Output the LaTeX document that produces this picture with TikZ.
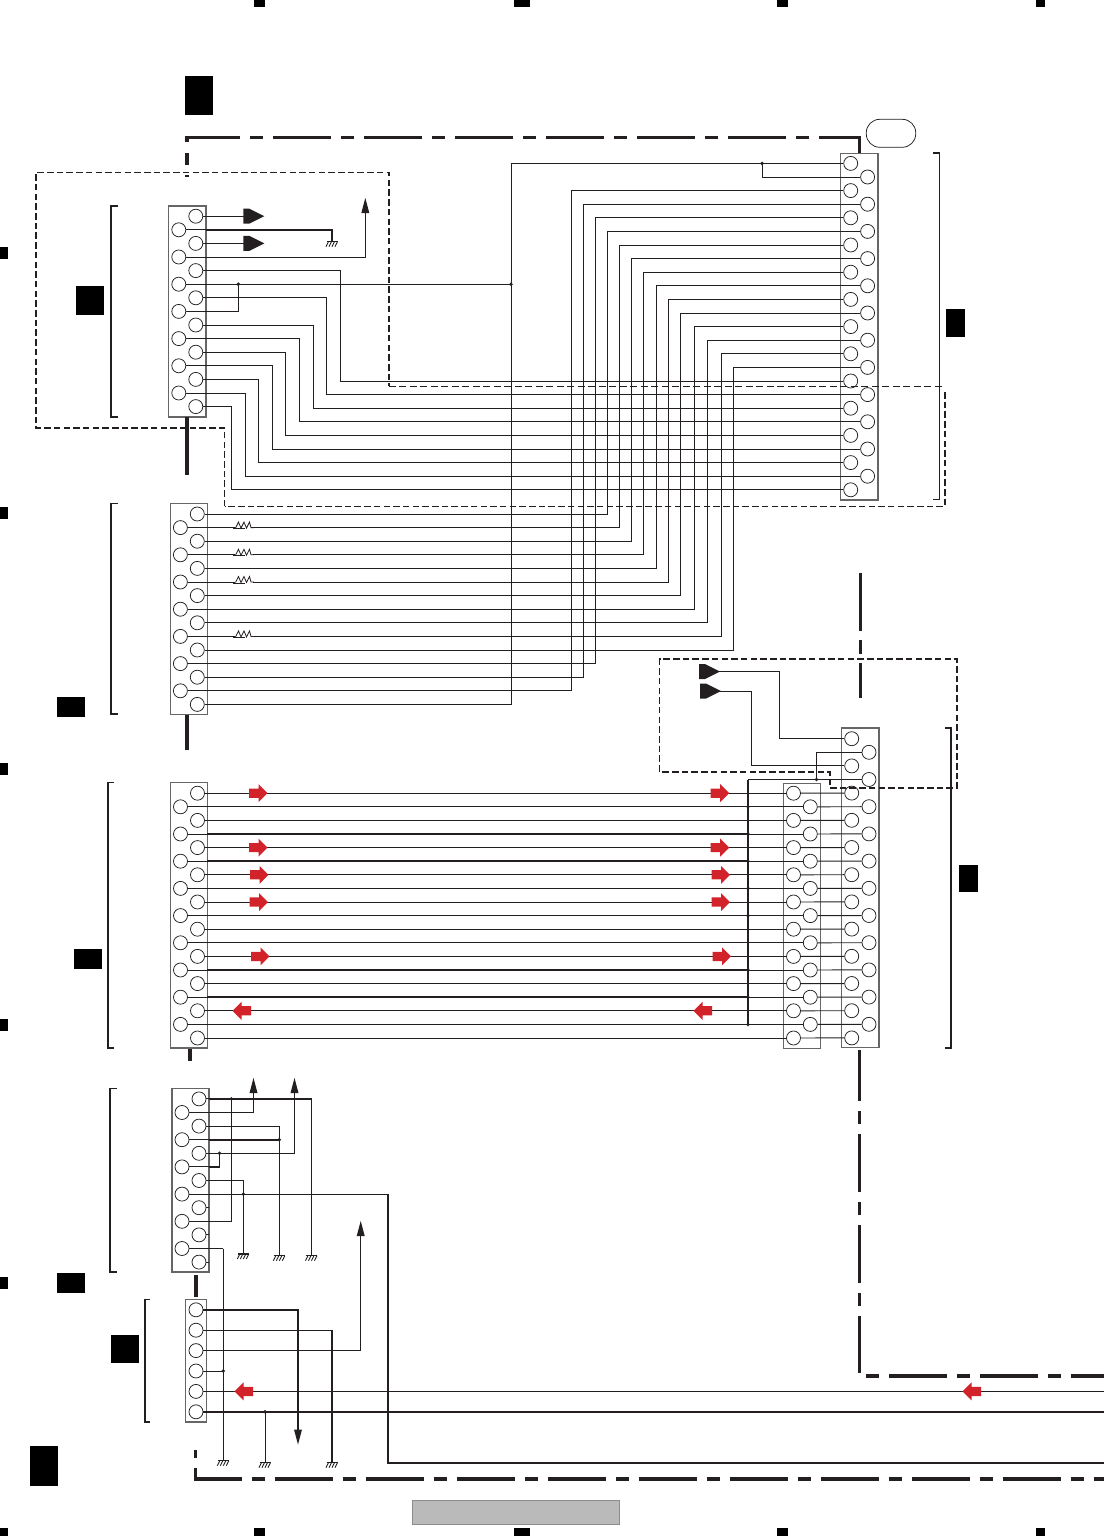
\documentclass[tikz,border=0pt]{standalone}
\definecolor{ink}{HTML}{231F20}
\definecolor{redarrow}{HTML}{D2232A}
\definecolor{boxline}{HTML}{666666}
\tikzset{
  wire/.style={draw=ink,line width=0.95pt},
  heavy/.style={draw=ink,line width=2pt},
  pinc/.style={circle,draw=ink,line width=0.75pt,fill=white,minimum size=14pt,inner sep=0pt},
  conn/.style={draw=boxline,line width=1.15pt},
  brack/.style={draw=ink,line width=1.5pt},
  dashzone/.style={draw=ink,line width=1.5pt,dash pattern=on 6.5pt off 3.2pt},
  dashthin/.style={draw=ink,line width=0.9pt,dash pattern=on 7pt off 3.5pt},
  chain/.style={draw=ink,line width=3.2pt,dash pattern=on 58pt off 10pt on 13pt off 10pt},
  solidchain/.style={draw=ink,line width=3.2pt},
  blacklabel/.style={fill=black},
  flag/.style={fill=ink},
  tri/.style={fill=ink},
  jdot/.style={circle,fill=ink,inner sep=0pt,minimum size=3.8pt},
  redblock/.style={fill=redarrow},
}
\newcommand{\pinrow}[5]{% name, x odd, x even, y0, n
  \foreach \k in {1,...,#5}{
    \pgfmathsetmacro\yy{#4+13.6*(\k-1)}
    \ifodd\k\def\xx{#2}\else\def\xx{#3}\fi
    \node[pinc] (#1\k) at (\xx,\yy) {};
  }}
\newcommand{\zwire}[3]{\draw[wire] (#1) -- (#2,0 |- #1) -- (#2,0 |- #3) -- (#3);}
\newcommand{\gndsym}[2]{%
  \draw[draw=ink,line width=1.3pt] (#1-5.5,#2) -- (#1+5.5,#2);
  \draw[draw=ink,line width=0.9pt] (#1-3.5,#2) -- (#1-6,#2+5) (#1-0.5,#2) -- (#1-3,#2+5) (#1+2.5,#2) -- (#1,#2+5) (#1+5.5,#2) -- (#1+3,#2+5);}
\newcommand{\flagsym}[2]{\fill[flag] (#1,#2-7.5) -- (#1+6,#2-7.5) -- (#1+21,#2) -- (#1+6,#2+7.5) -- (#1,#2+7.5) -- cycle;}
\newcommand{\upa}[2]{\fill[tri] (#1,#2) -- (#1+4,#2+15) -- (#1-4,#2+15) -- cycle;}
\newcommand{\downa}[2]{\fill[tri] (#1,#2) -- (#1+4,#2-15) -- (#1-4,#2-15) -- cycle;}
\newcommand{\redr}[2]{\fill[redblock] (#1,#2-4.6) -- (#1+9.5,#2-4.6) -- (#1+9.5,#2-9) -- (#1+18.5,#2) -- (#1+9.5,#2+9) -- (#1+9.5,#2+4.6) -- (#1,#2+4.6) -- cycle;}
\newcommand{\redl}[2]{\fill[redblock] (#1,#2-4.6) -- (#1-9.5,#2-4.6) -- (#1-9.5,#2-9) -- (#1-18.5,#2) -- (#1-9.5,#2+9) -- (#1-9.5,#2+4.6) -- (#1,#2+4.6) -- cycle;}
\newcommand{\resist}[1]{%
  \draw[draw=white,line width=1.5pt] (235,#1) -- (253,#1);
  \draw[draw=ink,line width=1pt] (233,#1+1) -- (245,#1+1);
  \draw[draw=ink,line width=0.8pt] (235.5,#1+0.5) -- (238.5,#1-5.5) -- (241,#1+0.5) -- (244,#1-5.5) -- (246.5,#1+0.5) -- (249.5,#1-5.5) -- (251,#1) -- (254,#1);}
\begin{document}
\begin{tikzpicture}[x=1pt,y=-1pt]
\useasboundingbox (0,0) rectangle (1104,1536);
% registration marks
\foreach \a/\b in {254/265,514/530,777/788,1036/1045}{
  \fill[black] (\a,0) rectangle (\b,7);
  \fill[black] (\a,1528) rectangle (\b,1536);}
\fill[black] (0,1528) rectangle (8,1536);
\foreach \a in {247,507,763,1019,1277}{\fill[black] (0,\a) rectangle (8,\a+12);}
% black label blocks
\foreach \a/\b/\c/\d in {185/76/213/115,76/286/104/315,946/309/965/337,57/697/85/717,74/949/102/969,959/865/978/892,57/1273/85/1293,111/1335/139/1363,30/1446/58/1486}{
  \fill[blacklabel] (\a,\b) rectangle (\c,\d);}
% grey plate and oval
\draw[fill=black!27!white,draw=black!45!white,line width=0.8pt] (412.5,1500.5) rectangle (619.5,1524.5);
\node[draw=ink,line width=0.75pt,rounded corners=13.5pt,minimum width=49.5pt,minimum height=28pt,inner sep=0pt] (oval) at (891,133.3) {};
% brackets
\draw[brack] (118,206) -- (111,206) -- (111,417) -- (118,417);
\draw[brack] (118,503.5) -- (111,503.5) -- (111,714) -- (118,714);
\draw[brack] (114,782.5) -- (108,782.5) -- (108,1048) -- (114,1048);
\draw[brack] (117,1088.5) -- (110,1088.5) -- (110,1272) -- (117,1272);
\draw[brack] (150,1299.5) -- (145,1299.5) -- (145,1422) -- (150,1422);
\draw[brack] (933,153) -- (939.5,153) -- (939.5,499.5) -- (933,499.5);
\draw[brack] (945,728) -- (951,728) -- (951,1048) -- (945,1048);
% connector bodies
\draw[conn] (168.5,206) rectangle (206,417);
\draw[conn] (840.5,153.5) rectangle (878,500);
\draw[conn] (170.5,503.5) rectangle (207.5,714.5);
\draw[conn] (170.5,782.5) rectangle (207.5,1048);
\draw[conn] (783.5,783.5) rectangle (820.5,1048.5);
\draw[conn] (841.5,728) rectangle (879,1047.5);
\draw[conn] (172,1088.5) rectangle (209,1272);
\draw[conn] (185.5,1299.5) rectangle (206.5,1422);
% pins
\pinrow{A}{195.8}{178.8}{216.2}{15}
\pinrow{T}{850.7}{867.6}{163.4}{25}
\pinrow{B}{197.3}{180.4}{514}{15}
\pinrow{C}{197.5}{180.5}{793.2}{19}
\pinrow{M}{793.5}{810.3}{793.2}{19}
\pinrow{R}{851.7}{869}{738.7}{23}
\pinrow{D}{199}{182}{1098.9}{13}
\foreach \k in {1,...,6}{
  \pgfmathsetmacro\yy{1309.8+20.4*(\k-1)}
  \node[pinc] (E\k) at (196,\yy) {};}
% ---- top connector wires
\zwire{T1}{511}{B15}
\node[jdot] (j1) at (762,0 |- T1) {};
\draw[wire] (j1.center) -- (j1.center |- T2) -- (T2);
\zwire{T3}{571.5}{B14}
\zwire{T4}{583.5}{B13}
\zwire{T5}{595.5}{B12}
\zwire{T6}{607.5}{B1}
\zwire{T7}{619.5}{B2}
\zwire{T8}{631.5}{B3}
\zwire{T9}{643.5}{B4}
\zwire{T10}{656}{B5}
\zwire{T11}{668}{B6}
\zwire{T12}{680.5}{B7}
\zwire{T13}{694}{B8}
\zwire{T14}{707.5}{B9}
\zwire{T15}{721}{B10}
\zwire{T16}{733.5}{B11}
\zwire{A5}{340.3}{T17}
\zwire{A7}{326.3}{T18}
\zwire{A9}{313.7}{T19}
\zwire{A10}{299.3}{T20}
\zwire{A11}{285.7}{T21}
\zwire{A12}{272.3}{T22}
\zwire{A13}{258.7}{T23}
\zwire{A14}{245.3}{T24}
\zwire{A15}{231.5}{T25}
% ---- upper left
\flagsym{243.3}{216.2}
\flagsym{243.3}{243.4}
\draw[wire] (A1) -- (244,0 |- A1);
\draw[wire] (A3) -- (244,0 |- A3);
\draw[wire] (A2) -- (206,0 |- A2);
\draw[heavy,line width=1.8pt] (206,0 |- A2) -- (332,0 |- A2) -- (332,241.7);
\gndsym{332}{241.7}
\draw[wire] (A4) -- (365.3,0 |- A4) -- (365.3,205);
\upa{365.3}{198}
\node[jdot] (j2) at (511,0 |- A6) {};
\node[jdot] (j3) at (238.3,0 |- A6) {};
\draw[wire] (A6) -- (j2.center);
\draw[wire] (A8) -- (238.3,0 |- A8) -- (j3.center);
% ---- resistors
\resist{527.6}
\resist{554.8}
\resist{582}
\resist{636.4}
% ---- lower flags
\flagsym{699}{671.5}
\flagsym{700}{691}
\draw[wire] (R1) -- (779.5,0 |- R1) -- (779.5,671.5) -- (718,671.5);
\draw[wire] (R3) -- (751.5,0 |- R3) -- (751.5,691) -- (719,691);
\node[jdot] (j4) at (816.5,0 |- R4) {};
\draw[wire,line width=1.6pt] (R2) -- (816.5,0 |- R2) -- (j4.center);
\draw[wire] (R4) -- (748,0 |- R4);
% ---- bus
\foreach \k [evaluate=\k as \r using int(\k+4)] in {1,...,19}{
  \draw[wire] (C\k) -- (M\k);
  \draw[wire] (M\k) -- (R\r);}
\foreach \k in {4,6,14,16}{\draw[heavy,line width=1.9pt] (207,0 |- C\k) -- (748,0 |- C\k);}
\draw[heavy,line width=2.2pt] (748,0 |- R4) -- (748,0 |- C18);
\foreach \k in {2,4,6,8,10,14,16,18}{\node[jdot] (bus\k) at (748,0 |- C\k) {};}
\foreach \k/\xr/\xs in {1/249/710.7,5/249/710.7,7/250/711.5,9/249.5/711.5,13/251/712.5}{
  \pgfmathsetmacro\yr{793.2+13.6*(\k-1)}
  \redr{\xr}{\yr}
  \redr{\xs}{\yr}}
\redl{251}{1010.8}
\redl{712}{1010.8}
% ---- lower connector D
\draw[wire] (D1) -- (209,0 |- D1);
\draw[heavy,line width=1.8pt] (209,0 |- D1) -- (311.5,0 |- D1);
\draw[wire] (311.5,0 |- D1) -- (311.5,1255.7);
\gndsym{311.5}{1255.7}
\node[jdot] (j5) at (231.4,0 |- D1) {};
\draw[wire] (j5.center) -- (231.4,0 |- D10) -- (D10);
\draw[wire] (D2) -- (253.5,0 |- D2) -- (253.5,1085);
\upa{253.5}{1078}
\zwire{D3}{279.3}{D4}
\node[jdot] (j6) at (279.3,0 |- D4) {};
\draw[heavy,line width=1.8pt] (209,0 |- D4) -- (j6.center);
\draw[wire] (D4) -- (209,0 |- D4);
\draw[wire] (j6.center) -- (279.3,1255.7);
\gndsym{279.3}{1255.7}
\node[jdot] (j7) at (219.5,0 |- D5) {};
\draw[wire] (D5) -- (294.5,0 |- D5) -- (294.5,1085);
\upa{294.5}{1078}
\draw[heavy,line width=1.7pt] (209,0 |- D6) -- (219.5,0 |- D6) -- (j7.center);
\draw[wire] (D6) -- (209,0 |- D6);
\node[jdot] (j8) at (243.3,0 |- D8) {};
\draw[wire] (D7) -- (243.3,0 |- D7) -- (243.3,1254);
\gndsym{243.3}{1254}
\draw[wire] (D8) -- (388,0 |- D8);
\draw[wire,line width=1.6pt] (388,0 |- D8) -- (388,1463) -- (1104,1463);
\draw[wire] (D9) -- (209,0 |- D9);
\draw[wire] (D11) -- (209,0 |- D11);
\draw[wire] (D13) -- (209,0 |- D13);
\draw[wire] (D12) -- (209,0 |- D12);
\draw[wire,line width=1.5pt] (209,0 |- D12) -- (223.3,0 |- D12);
\draw[wire] (223.3,0 |- D12) -- (223.3,1460.7);
\gndsym{223.3}{1460.7}
% ---- connector E
\draw[heavy,line width=1.7pt] (E1) -- (298,0 |- E1) -- (298,1431);
\downa{298}{1444.5}
\draw[wire] (E2) -- (332,0 |- E2);
\draw[wire,line width=1.6pt] (332,0 |- E2) -- (332,1462.7);
\gndsym{332}{1462.7}
\draw[wire] (E3) -- (360.7,0 |- E3) -- (360.7,1228);
\upa{360.7}{1221}
\node[jdot] (j9) at (223.3,0 |- E4) {};
\draw[wire] (E4) -- (j9.center);
\coordinate (oe5) at (1104,0 |- E5);
\coordinate (oe6) at (1104,0 |- E6);
\draw[wire] (E5) -- (oe5);
\draw[heavy,line width=1.8pt] (E6) -- (oe6);
\node[jdot] (j10) at (265,0 |- E6) {};
\draw[wire] (j10.center) -- (265,1462.7);
\gndsym{265}{1462.7}
\redl{253}{1391.4}
\redl{981}{1391.4}
% ---- dashed zones
\draw[dashzone] (224.5,506.3) -- (224.5,428) -- (36,428) -- (36,172.3) -- (388.8,172.3) -- (388.8,386);
\draw[dashthin] (388.8,386) -- (945,386);
\draw[dashzone] (945,392) -- (945,506.3) -- (224.5,506.3);
\draw[dashzone,line width=1.2pt] (830,788) -- (957,788) -- (957,659) -- (659.5,659) -- (659.5,772) -- (830,772) -- (830,788);
% ---- chain lines
\draw[chain,dash phase=5pt] (187,137.6) -- (859.3,137.6);
\draw[solidchain] (859.3,136) -- (859.3,153);
\draw[solidchain] (187,136) -- (187,142);
\draw[solidchain] (187,153) -- (187,165);
\draw[solidchain] (187,175) -- (187,177);
\draw[solidchain] (187,417) -- (187,475);
\draw[solidchain] (187,714.5) -- (187,750);
\draw[solidchain] (190,1049) -- (190,1061);
\draw[solidchain] (196,1275) -- (196,1297);
\draw[solidchain] (860.5,573) -- (860.5,631);
\draw[solidchain] (860.5,640) -- (860.5,654);
\draw[solidchain] (860.5,663) -- (860.5,698);
\draw[chain,dash phase=7pt] (859.3,1050) -- (859.3,1373);
\draw[chain,dash phase=68pt] (866,1376) -- (1104,1376);
\draw[solidchain] (195.7,1450) -- (195.7,1458);
\draw[solidchain] (195.7,1468) -- (195.7,1480.6);
\draw[chain,dash phase=10.5pt] (194.1,1479) -- (1104,1479);
\end{tikzpicture}
\end{document}
